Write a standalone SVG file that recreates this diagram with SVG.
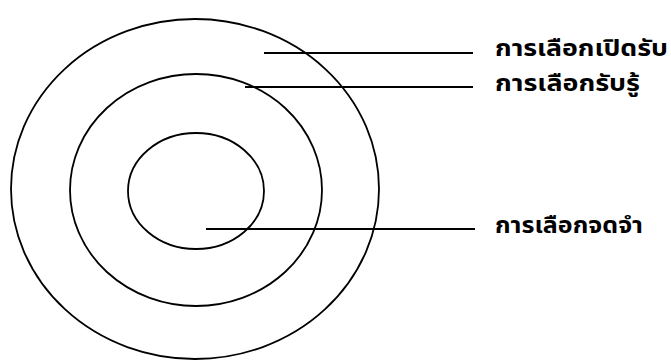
<svg xmlns="http://www.w3.org/2000/svg" width="671" height="362" viewBox="0 0 671 362">
<style>
.ring{fill:none;stroke:#000;stroke-width:1.8}
.ln{stroke:#000;stroke-width:2.2}
.lbl{font-family:"Noto Sans Thai","Noto Sans","DejaVu Sans",sans-serif;font-size:23px;font-weight:bold;fill:#000}
</style>
<rect width="671" height="362" fill="#fff"/>
<g id="outer"><ellipse class="ring" cx="195" cy="189" rx="184" ry="170"/></g>
<g id="middle"><ellipse class="ring" cx="196" cy="190" rx="126" ry="116"/></g>
<g id="inner"><ellipse class="ring" cx="196" cy="191" rx="68" ry="58"/></g>
<g id="connectors">
<line class="ln" x1="264" y1="53" x2="473" y2="53"/>
<line class="ln" x1="245" y1="87" x2="473" y2="87"/>
<line class="ln" x1="206" y1="229" x2="475" y2="229"/>
</g>
<g id="label1"><text class="lbl" x="495" y="56" textLength="173" lengthAdjust="spacingAndGlyphs">การเลือกเปิดรับ</text></g>
<g id="label2"><text class="lbl" x="495" y="91" textLength="145" lengthAdjust="spacingAndGlyphs">การเลือกรับรู้</text></g>
<g id="label3"><text class="lbl" x="495" y="233" textLength="148" lengthAdjust="spacingAndGlyphs">การเลือกจดจำ</text></g>
</svg>
